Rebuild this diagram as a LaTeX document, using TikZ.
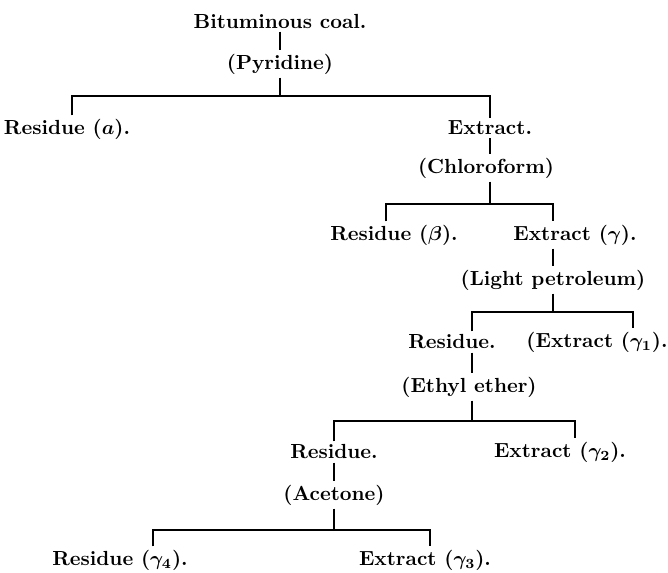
\documentclass[tikz,border=0pt]{standalone}
\usepackage{amsmath, amssymb}
\usepackage{tikz}
\usetikzlibrary{positioning}

\begin{document}
\begin{tikzpicture}[
    x=0.5pt, y=-0.5pt,
    entry/.style={inner sep=1.5pt, font=\fontsize{10.2}{12}\selectfont\bfseries\boldmath},
    link/.style={line width=0.9pt}
]
\useasboundingbox (0,0) rectangle (668,572);
\node[entry] (coal)  at (280,21)  {Bituminous coal.};
\node[entry] (pyr)   at (280,64)  {(Pyridine)};
\node[entry] (resa)  at (67,129)  {Residue ($a$).};
\node[entry] (ext)   at (490,128) {Extract.};
\node[entry] (chl)   at (486,168) {(Chloroform)};
\node[entry] (resb)  at (394,235) {Residue ($\beta$).};
\node[entry] (extg)  at (575,235) {Extract ($\gamma$).};
\node[entry] (pet)   at (553,280) {(Light petroleum)};
\node[entry] (res2)  at (452,342) {Residue.};
\node[entry] (extg1) at (597,342) {(Extract ($\gamma_1$).};
\node[entry] (eth)   at (469,387) {(Ethyl ether)};
\node[entry] (res3)  at (334,452) {Residue.};
\node[entry] (extg2) at (560,452) {Extract ($\gamma_2$).};
\node[entry] (ace)   at (334,495) {(Acetone)};
\node[entry] (resg4) at (120,560) {Residue ($\gamma_4$).};
\node[entry] (extg3) at (425,560) {Extract ($\gamma_3$).};

% ends of the bars
\coordinate (b1l) at (72,96);   \coordinate (b1r) at (490,96);
\coordinate (b2l) at (386,204); \coordinate (b2r) at (553,204);
\coordinate (b3l) at (472,312); \coordinate (b3r) at (633,312);
\coordinate (b4l) at (334,421); \coordinate (b4r) at (575,421);
\coordinate (b5l) at (153,530); \coordinate (b5r) at (430,530);

\path[draw, link]
    (coal) -- (pyr)
    (pyr) -- (pyr |- b1l)
    (b1l |- resa.north) -- (b1l) -- (b1r) -- (ext)
    (ext) -- (ext |- chl.north)
    (ext |- chl.south) -- (ext |- b2l)
    (b2l |- resb.north) -- (b2l) -- (b2r) -- (b2r |- extg.north)
    (b2r |- extg.south) -- (b2r |- pet.north)
    (b2r |- pet.south) -- (b2r |- b3l)
    (b3l |- res2.north) -- (b3l) -- (b3r) -- (b3r |- extg1.north)
    (b3l |- res2.south) -- (b3l |- eth.north)
    (b3l |- eth.south) -- (b3l |- b4l)
    (b4l |- res3.north) -- (b4l) -- (b4r) -- (b4r |- extg2.north)
    (res3) -- (ace)
    (ace) -- (ace |- b5l)
    (b5l |- resg4.north) -- (b5l) -- (b5r) -- (b5r |- extg3.north);
\end{tikzpicture}
\end{document}
